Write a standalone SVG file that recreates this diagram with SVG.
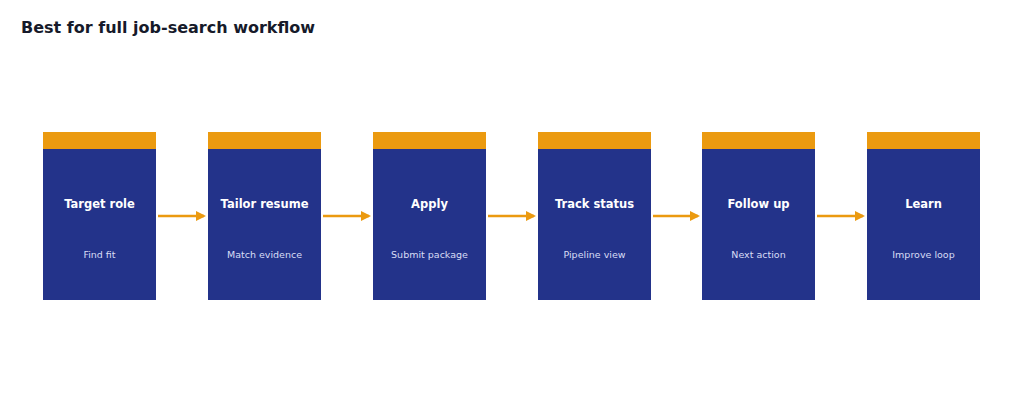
<svg xmlns="http://www.w3.org/2000/svg" width="1024" height="405" viewBox="0 0 1024 405">
<style>
.body{fill:#23338a}.cap{fill:#eb9a10}
.t{font-family:"DejaVu Sans",sans-serif;font-weight:bold;font-size:11.5px;fill:#fff;text-anchor:middle}
.s{font-family:"DejaVu Sans",sans-serif;font-size:9.5px;fill:#d8ddf5;text-anchor:middle}
.c line{stroke:#eb9a10;stroke-width:2.5;marker-end:url(#a)}
</style>
<defs><marker id="a" markerWidth="4" markerHeight="4" refX="3.2" refY="2" orient="auto" markerUnits="strokeWidth"><path d="M0,0L4,2L0,4z" fill="#eb9a10"/></marker></defs>
<rect width="1024" height="405" fill="#fff"/>
<text x="21" y="33" font-family="DejaVu Sans,sans-serif" font-weight="bold" font-size="16" fill="#161a2a">Best for full job-search workflow</text>
<g id="n1"><rect class="body" x="43" y="132" width="113" height="168"/><rect class="cap" x="43" y="132" width="113" height="17"/><text class="t" x="99.5" y="208">Target role</text><text class="s" x="99.5" y="258">Find fit</text></g>
<g id="n2"><rect class="body" x="208" y="132" width="113" height="168"/><rect class="cap" x="208" y="132" width="113" height="17"/><text class="t" x="264.5" y="208">Tailor resume</text><text class="s" x="264.5" y="258">Match evidence</text></g>
<g id="n3"><rect class="body" x="373" y="132" width="113" height="168"/><rect class="cap" x="373" y="132" width="113" height="17"/><text class="t" x="429.5" y="208">Apply</text><text class="s" x="429.5" y="258">Submit package</text></g>
<g id="n4"><rect class="body" x="538" y="132" width="113" height="168"/><rect class="cap" x="538" y="132" width="113" height="17"/><text class="t" x="594.5" y="208">Track status</text><text class="s" x="594.5" y="258">Pipeline view</text></g>
<g id="n5"><rect class="body" x="702" y="132" width="113" height="168"/><rect class="cap" x="702" y="132" width="113" height="17"/><text class="t" x="758.5" y="208">Follow up</text><text class="s" x="758.5" y="258">Next action</text></g>
<g id="n6"><rect class="body" x="867" y="132" width="113" height="168"/><rect class="cap" x="867" y="132" width="113" height="17"/><text class="t" x="923.5" y="208">Learn</text><text class="s" x="923.5" y="258">Improve loop</text></g>
<g class="c">
<line x1="158" y1="216" x2="204" y2="216"/>
<line x1="323" y1="216" x2="369" y2="216"/>
<line x1="488" y1="216" x2="534" y2="216"/>
<line x1="653" y1="216" x2="698" y2="216"/>
<line x1="817" y1="216" x2="863" y2="216"/>
</g>
</svg>
